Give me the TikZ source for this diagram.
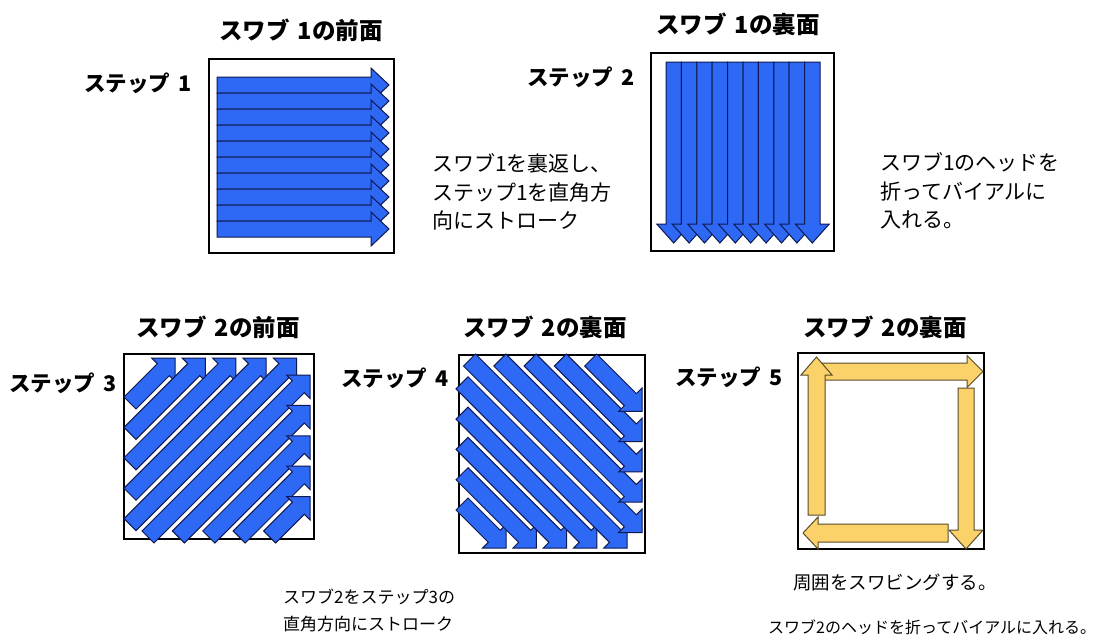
\documentclass[tikz,border=0pt]{standalone}
\usepackage{fontspec}
\setmainfont{Noto Sans CJK JP}
\definecolor{swblue}{RGB}{45,105,245}
\definecolor{swnavy}{RGB}{15,25,80}
\definecolor{swyel}{RGB}{250,210,105}
\definecolor{swbrown}{RGB}{90,75,45}
\newcommand{\blkarrow}[8]{%
\begin{scope}[shift={(#2,#3)},rotate=#4]
\draw[#1] (0,-#6) -- ({#5-#8},-#6) -- ({#5-#8},-#7) -- (#5,0) -- ({#5-#8},#7) -- ({#5-#8},#6) -- (0,#6) -- cycle;
\end{scope}}
\begin{document}
\begin{tikzpicture}[x=1pt,y=-1pt,
  bluearr/.style={fill=swblue,draw=swnavy,line width=1pt,line join=miter},
  yelarr/.style={fill=swyel,draw=swbrown,line width=1pt,line join=miter},
  swbox/.style={draw=black,line width=1.2pt},
  ttl/.style={font=\bfseries\fontsize{23.5}{27}\selectfont,inner sep=0pt},
  stp/.style={font=\bfseries\fontsize{21.5}{25}\selectfont,inner sep=0pt},
  body/.style={font=\fontsize{21}{28.5}\selectfont,align=left,inner sep=0pt,anchor=west},
  bodys/.style={font=\fontsize{17}{27}\selectfont,align=left,inner sep=0pt,anchor=west}]
\useasboundingbox (0,0) rectangle (1101,641);
\fill[white] (0,0) rectangle (1101,641);

% ---------- titles ----------
\node[ttl] (t1) at (301,30) {スワブ\hspace{0.35em}1の前面};
\node[ttl] (t2) at (738,24) {スワブ\hspace{0.35em}1の裏面};
\node[stp] (s1) at (138,83) {ステップ\hspace{0.4em}1};
\node[stp] (s2) at (581,77) {ステップ\hspace{0.4em}2};
\node[ttl] (t3) at (218,327) {スワブ\hspace{0.35em}2の前面};
\node[ttl] (t4) at (545,327) {スワブ\hspace{0.35em}2の裏面};
\node[ttl] (t5) at (885,327) {スワブ\hspace{0.35em}2の裏面};
\node[stp] (s3) at (63,383) {ステップ\hspace{0.4em}3};
\node[stp] (s4) at (395,378) {ステップ\hspace{0.4em}4};
\node[stp] (s5) at (729,377) {ステップ\hspace{0.4em}5};

% ---------- box 1 ----------
\draw[swbox] (209,59) rectangle (394,253);
\foreach \k in {0,...,9}{
  \pgfmathsetmacro\cy{85+16*\k}
  \blkarrow{bluearr}{217}{\cy}{0}{172}{8}{17}{18}
}

% ---------- box 2 ----------
\draw[swbox] (651,53) rectangle (834,251);
\foreach \k in {0,...,9}{
  \pgfmathsetmacro\cx{673.7+15.4*\k}
  \blkarrow{bluearr}{\cx}{62}{-90}{181}{7.7}{17}{19}
}

% ---------- box 3 ----------
\draw[swbox] (124,354) rectangle (314,539);
\foreach \k in {0,...,9}{
  \pgfmathsetmacro\cc{533+30.4*\k}
  \pgfmathsetmacro\ty{min(\cc-130,537)}
  \pgfmathsetmacro\tx{\cc-\ty}
  \pgfmathsetmacro\px{min(\cc-358,310)}
  \pgfmathsetmacro\len{(\px-\tx)*1.41421}
  \blkarrow{bluearr}{\tx}{\ty}{45}{\len}{8.5}{16.5}{16.5}
}

% ---------- box 4 ----------
\draw[swbox] (459,355) rectangle (645,553);
\foreach \k in {0,...,9}{
  \pgfmathsetmacro\dd{-42+30.3*\k}
  \pgfmathsetmacro\tx{max(\dd+360,462)}
  \pgfmathsetmacro\ty{\tx-\dd}
  \pgfmathsetmacro\px{min(642,548+\dd)}
  \pgfmathsetmacro\len{(\px-\tx)*1.41421}
  \blkarrow{bluearr}{\tx}{\ty}{-45}{\len}{8.5}{16.5}{16.5}
}

% ---------- box 5 ----------
\draw[swbox] (798,353) rectangle (984,549);
\blkarrow{yelarr}{812}{371.5}{0}{171}{8.5}{16}{16}
\blkarrow{yelarr}{966}{388}{-90}{161}{8}{17}{19}
\blkarrow{yelarr}{948}{533}{180}{145}{9}{16}{15}
\blkarrow{yelarr}{816.5}{515}{90}{158}{8.5}{15.5}{18}

% ---------- body texts ----------
\node[body] (b1) at (432,192) {スワブ1を裏返し、\\ステップ1を直角方\\向にストローク};
\node[body] (b2) at (880,191) {スワブ1のヘッドを\\折ってバイアルに\\入れる。};
\node[bodys] (b3) at (283,610.5) {スワブ2をステップ3の\\直角方向にストローク};
\node[bodys,font=\fontsize{18.5}{22}\selectfont] (b4) at (793,583) {周囲をスワビングする。};
\node[bodys,font=\fontsize{16}{20}\selectfont] (b5) at (768,627) {スワブ2のヘッドを折ってバイアルに入れる。};
\end{tikzpicture}
\end{document}
